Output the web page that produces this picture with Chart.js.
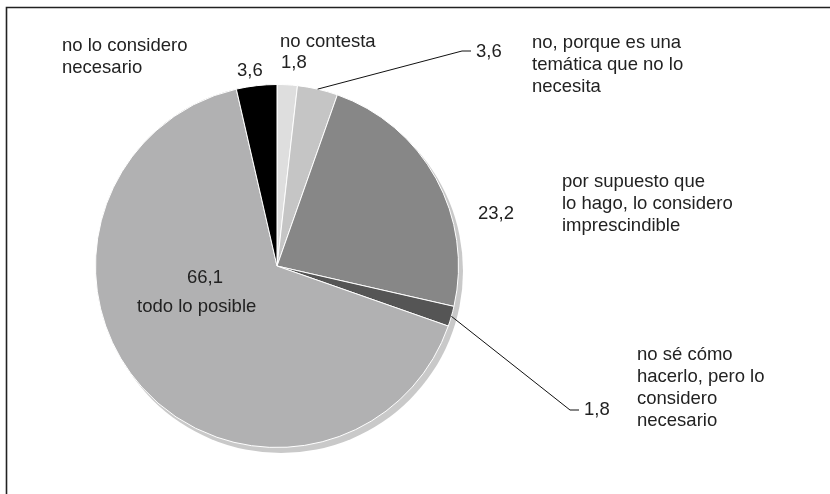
<!DOCTYPE html>
<html><head><meta charset="utf-8">
<script src="https://cdn.jsdelivr.net/npm/chart.js@4/dist/chart.umd.min.js"></script>
<style>html,body{margin:0;padding:0;background:#fff;}canvas{display:block;}</style>
</head><body>
<canvas id="c" width="830" height="494"></canvas>
<script>
const categories = ["no contesta","no, porque es una temática que no lo necesita","por supuesto que lo hago, lo considero imprescindible","no sé cómo hacerlo, pero lo considero necesario","todo lo posible","no lo considero necesario"];
const values = [1.8, 3.6, 23.2, 1.8, 66.1, 3.6];
const valueLabels = ["1,8","3,6","23,2","1,8","66,1","3,6"];
const colors = ["#dedede","#c5c5c5","#878787","#555555","#b1b1b2","#000000"];

const FONT = '18.5px "Liberation Sans", Arial, sans-serif';
const TXT = '#222';

// label layout: [index, valuePos, textLines, textPos, leader]
const labelLayout = [
  {i:0, v:[281,63], lines:["no contesta"], t:[280,42]},
  {i:1, v:[476,52], lines:["no, porque es una","temática que no lo","necesita"], t:[532,43], leader:[[462,51],[471,51]]},
  {i:2, v:[478,214], lines:["por supuesto que","lo hago, lo considero","imprescindible"], t:[562,182]},
  {i:3, v:[584,410], lines:["no sé cómo","hacerlo, pero lo","considero","necesario"], t:[637,355], leader:[[570,410],[579,410]]},
  {i:4, v:[187,278], lines:["todo lo posible"], t:[137,307]},
  {i:5, v:[237,71], lines:["no lo considero","necesario"], t:[62,46]}
];

const decor = {
  id:'decor',
  beforeDraw(chart){
    const ctx = chart.ctx;
    ctx.save();
    ctx.fillStyle='#fff';
    ctx.fillRect(0,0,chart.width,chart.height);
    ctx.strokeStyle='#222';
    ctx.lineWidth=1.6;
    ctx.beginPath();
    ctx.moveTo(6.5,494); ctx.lineTo(6.5,7.5); ctx.lineTo(830,7.5);
    ctx.stroke();
    ctx.restore();
  },
  beforeDatasetsDraw(chart){
    const arc = chart.getDatasetMeta(0).data[0];
    if(!arc) return;
    const ctx = chart.ctx;
    ctx.save();
    ctx.fillStyle='#c9c9c9';
    ctx.beginPath();
    ctx.arc(arc.x+4, arc.y+5, arc.outerRadius+0.5, 0, Math.PI*2);
    ctx.fill();
    ctx.restore();
  },
  afterDatasetsDraw(chart){
    const ctx = chart.ctx;
    const meta = chart.getDatasetMeta(0);
    ctx.save();
    ctx.font = FONT;
    ctx.fillStyle = TXT;
    ctx.textBaseline='middle';
    ctx.textAlign='left';
    labelLayout.forEach(L=>{
      const a = meta.data[L.i];
      ctx.fillText(valueLabels[L.i], L.v[0], L.v[1]);
      L.lines.forEach((s,k)=>ctx.fillText(s, L.t[0], L.t[1]+k*22));
      if(L.leader){
        const mid = (a.startAngle+a.endAngle)/2;
        const sx = a.x + Math.cos(mid)*a.outerRadius;
        const sy = a.y + Math.sin(mid)*a.outerRadius;
        ctx.strokeStyle='#111';
        ctx.lineWidth=1;
        ctx.beginPath();
        ctx.moveTo(sx,sy);
        L.leader.forEach(p=>ctx.lineTo(p[0],p[1]));
        ctx.stroke();
      }
    });
    ctx.restore();
  }
};

new Chart(document.getElementById('c'), {
  type:'pie',
  data:{labels:categories, datasets:[{data:values, backgroundColor:colors, borderColor:'#ffffff', borderWidth:1}]},
  options:{
    responsive:false, animation:false,
    layout:{padding:{left:95,right:371,top:84,bottom:46}},
    plugins:{legend:{display:false}, tooltip:{enabled:false}}
  },
  plugins:[decor]
});
</script>
</body></html>
